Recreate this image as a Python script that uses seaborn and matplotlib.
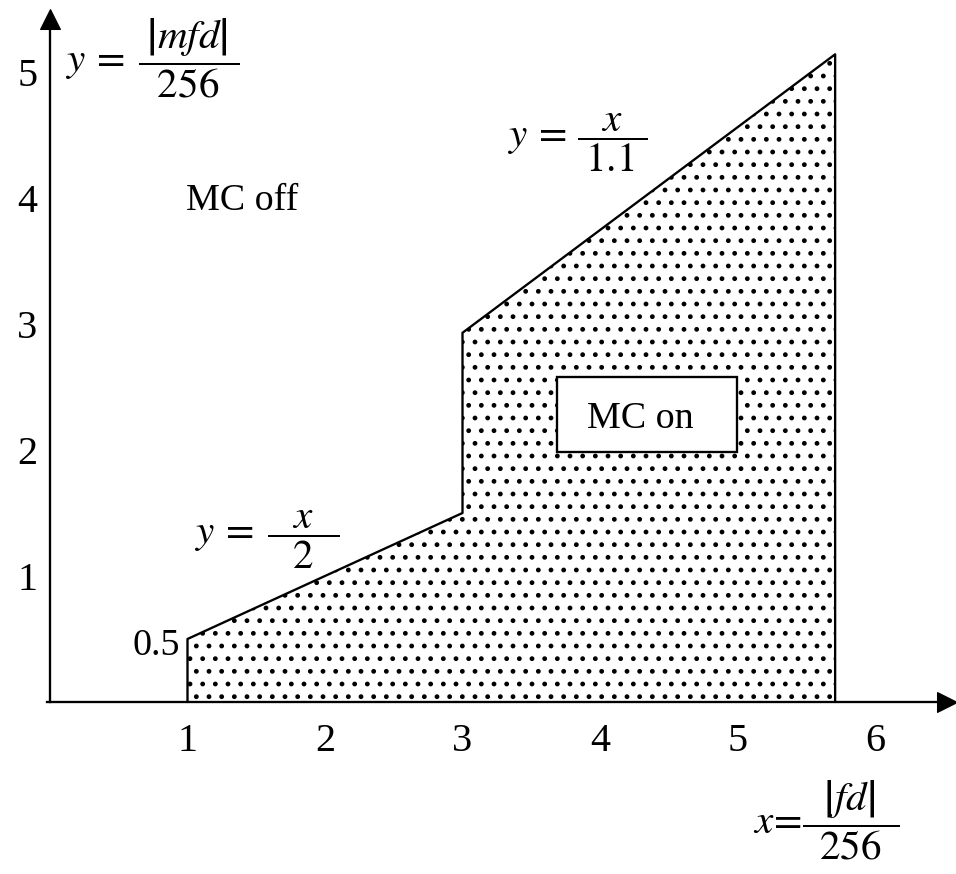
import matplotlib
matplotlib.use("Agg")
import matplotlib.pyplot as plt
import matplotlib.patches as mpatches
import pandas as pd
import seaborn as sns

# Boundary of the "MC on" region (x = |fd|/256, y = |mfd|/256)
boundary_x = [1, 1, 3, 3, 5.71, 5.71]
boundary_y = [0, 0.5, 1.5, 2.93, 5.14, 0]
start_value = 0.5

x_ticks = [1, 2, 3, 4, 5, 6]
y_ticks = [1, 2, 3, 4, 5]

sns.set_theme(style="white")
plt.rcParams["font.family"] = ["Liberation Serif", "DejaVu Serif"]
plt.rcParams["mathtext.fontset"] = "stix"
plt.rcParams["hatch.linewidth"] = 2.1

DPI = 76
fig = plt.figure(figsize=(956 / DPI, 874 / DPI), dpi=DPI)
ax = fig.add_axes([0, 0, 1, 1])
ax.set_xlim(-0.3636, 6.589)
ax.set_ylim(-1.365, 5.571)
ax.patch.set_alpha(0)

FS = 36
MFS = 39
LW = 2.2

# dotted fill of the region
ax.fill(boundary_x, boundary_y, facecolor="white", edgecolor="black",
        hatch=".", linewidth=0, zorder=1)

# region outline drawn through seaborn
df = pd.DataFrame({"x": boundary_x, "y": boundary_y})
sns.lineplot(data=df, x="x", y="y", sort=False, estimator=None,
             color="black", linewidth=LW, ax=ax, zorder=3)

# axes through the origin with arrowheads
for side in ("top", "right"):
    ax.spines[side].set_visible(False)
ax.spines["left"].set_position(("data", 0))
ax.spines["bottom"].set_position(("data", 0))
ax.spines["left"].set_bounds(0, 5.42)
ax.spines["bottom"].set_bounds(-0.02, 6.52)
for side in ("left", "bottom"):
    ax.spines[side].set_linewidth(LW)
    ax.spines[side].set_color("black")
    ax.spines[side].set_zorder(4)
ax.plot(0, 5.42, marker="^", color="black", markersize=19, clip_on=False, zorder=5)
ax.plot(6.52, 0, marker=">", color="black", markersize=19, clip_on=False, zorder=5)

ax.set_xticks(x_ticks)
ax.set_xticklabels([str(v) for v in x_ticks])
ax.set_yticks(y_ticks)
ax.set_yticklabels([str(v) for v in y_ticks])
ax.tick_params(axis="both", length=0, labelsize=FS + 2, colors="black")
ax.tick_params(axis="x", pad=20)
ax.tick_params(axis="y", pad=12)
ax.set_xlabel("")
ax.set_ylabel("")
ax.grid(False)

# start value at x = 1
ax.annotate(f"{start_value:g}", xy=(boundary_x[1], start_value),
            xytext=(-7, -6), textcoords="offset points",
            ha="right", va="center", fontsize=FS, color="black")

# formula and region labels
ax.text(0.116, 5.11, r"$y\,=\;\dfrac{\;\left|mfd\right|\;}{\;\;256\;\;}$", ha="left",
        va="center", fontsize=MFS, color="black")
ax.text(1.396, 3.905, "MC off", ha="center", va="baseline",
        fontsize=FS, color="black")
ax.text(3.33, 4.44, r"$y\,=\,\dfrac{\;x\;}{\;1.1\;}$", ha="left", va="center",
        fontsize=MFS, color="black")
ax.text(1.055, 1.286, r"$y\,=\;\dfrac{\;\;\;x\;\;\;}{\;\;\;2\;\;\;}$", ha="left",
        va="center", fontsize=MFS, color="black")
ax.text(5.113, -0.937, r"$x\!=\!\dfrac{\;\left|fd\right|\;}{\;\;256\;\;}$", ha="left",
        va="center", fontsize=MFS, color="black")

box = mpatches.Rectangle((3.687, 1.984), 1.309, 0.595, facecolor="white",
                         edgecolor="black", linewidth=LW, zorder=6)
ax.add_patch(box)
ax.text(4.29, 2.175, "MC on", ha="center", va="baseline",
        fontsize=FS, color="black", zorder=7)

fig.savefig("out.png", dpi=DPI, facecolor="white")
